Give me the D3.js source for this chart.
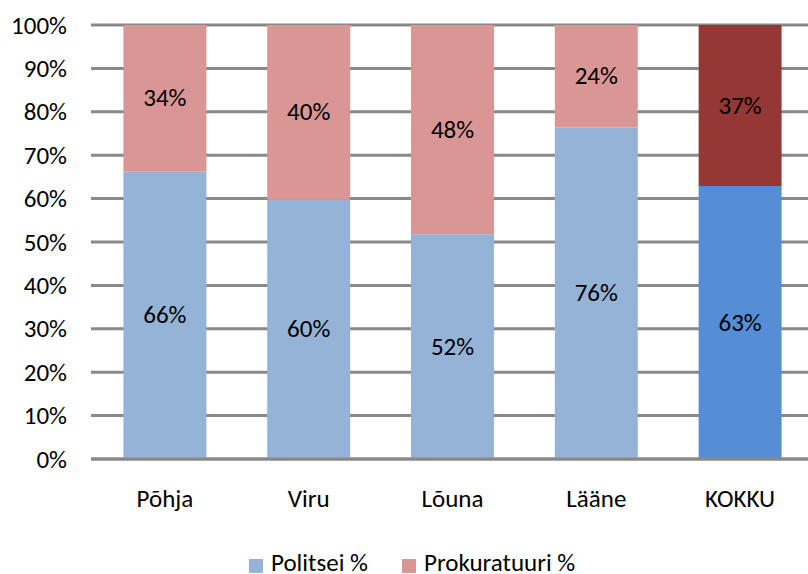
<!DOCTYPE html>
<html><head><meta charset="utf-8">
<script src="https://cdn.jsdelivr.net/npm/d3@7"></script>
<style>
html,body{margin:0;padding:0;background:#fff;}
svg text{font-family:Carlito,Calibri,"Open Sans",sans-serif;fill:#000;}
</style></head>
<body><svg id="chart" width="808" height="574"></svg>
<script>
const categories = ["Põhja","Viru","Lõuna","Lääne","KOKKU"];
const politsei = [66.2, 59.7, 51.8, 76.4, 62.9];
const prokuratuur = [33.8, 40.3, 48.2, 23.6, 37.1];
const seriesNames = ["Politsei %","Prokuratuuri %"];
const yTicks = [0,10,20,30,40,50,60,70,80,90,100];
const colorsNormal = ["#95B3D7","#D99694"];
const colorsTotal = ["#558ED5","#953735"];

(function(){
const FONT = 'Carlito,Calibri,"Open Sans",sans-serif';
const FS = 25;
const svg = d3.select("#chart");
const pLeft = 93, pRight = 812, pTop = 25, pBottom = 459;

const x = d3.scaleBand().domain(categories).range([pLeft,pRight]).paddingInner(0.423).paddingOuter(0.2115);
const y = d3.scaleLinear().domain([0,100]).range([pBottom,pTop]);

// gridlines
svg.append("g").selectAll("line").data(yTicks).enter().append("line")
  .attr("x1",pLeft-2).attr("x2",pRight)
  .attr("y1",d=>y(d)).attr("y2",d=>y(d))
  .attr("stroke","#898989").attr("stroke-width",3);

// y tick labels via axis
const yAxis = d3.axisLeft(y).tickValues(yTicks).tickFormat(d=>d+"%").tickSize(0).tickPadding(0);
const ya = svg.append("g").attr("transform",`translate(67,0)`).call(yAxis);
ya.select(".domain").remove();
ya.selectAll("text").attr("font-size",FS).attr("font-family",FONT).attr("fill","#000").attr("dy","0.32em");

// bars
const data = categories.map((c,i)=>({c, p:politsei[i], k:prokuratuur[i], total: c==="KOKKU"}));
const bars = svg.append("g");
data.forEach(d=>{
  const cols = d.total ? colorsTotal : colorsNormal;
  bars.append("rect").attr("x",x(d.c)).attr("width",x.bandwidth())
    .attr("y",y(d.p)).attr("height",y(0)-y(d.p)).attr("fill",cols[0]);
  bars.append("rect").attr("x",x(d.c)).attr("width",x.bandwidth())
    .attr("y",y(d.p+d.k)).attr("height",y(d.p)-y(d.p+d.k)).attr("fill",cols[1]);
  bars.append("text").attr("x",x(d.c)+x.bandwidth()/2).attr("y",(y(0)+y(d.p))/2)
    .attr("text-anchor","middle").attr("dy","0.32em").attr("font-size",FS).text(Math.round(d.p)+"%");
  bars.append("text").attr("x",x(d.c)+x.bandwidth()/2).attr("y",(y(d.p)+y(d.p+d.k))/2)
    .attr("text-anchor","middle").attr("dy","0.32em").attr("font-size",FS).text(Math.round(d.k)+"%");
});

// baseline
svg.append("line").attr("x1",pLeft-2).attr("x2",pRight).attr("y1",y(0)).attr("y2",y(0)).attr("stroke","#898989").attr("stroke-width",3);

// x axis labels
const xAxis = d3.axisBottom(x).tickSize(0).tickPadding(0);
const xa = svg.append("g").attr("transform",`translate(0,507)`).call(xAxis);
xa.select(".domain").remove();
xa.selectAll("text").attr("font-size",FS).attr("font-family",FONT).attr("fill","#000").attr("y",0).attr("dy","0");

// legend
const legend = svg.append("g");
const legX = [249, 402];
seriesNames.forEach((n,i)=>{
  legend.append("rect").attr("x",legX[i]).attr("y",559).attr("width",14).attr("height",14).attr("fill",colorsNormal[i]);
  legend.append("text").attr("x",legX[i]+22).attr("y",571).attr("font-size",FS).text(n);
});
})();
</script></body></html>
